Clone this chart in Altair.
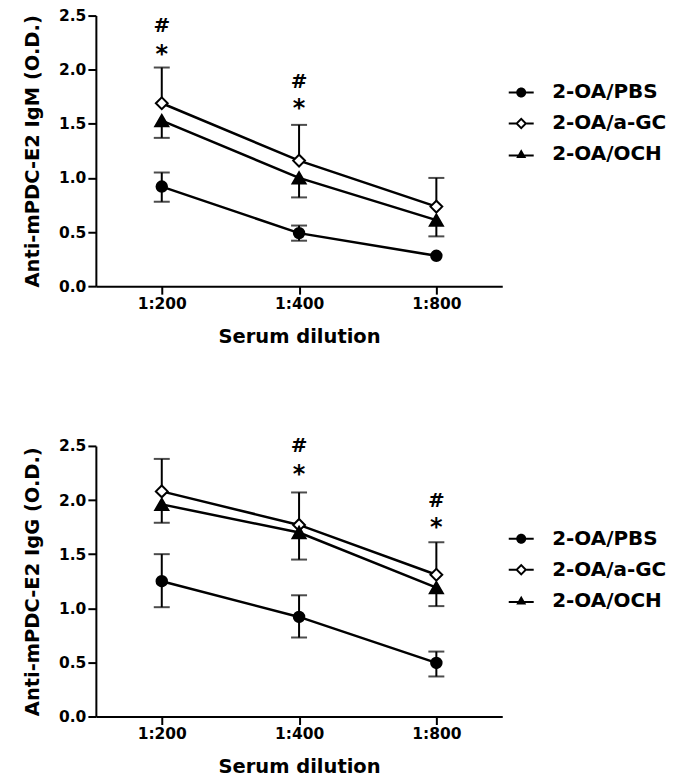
import altair as alt
import pandas as pd

dilutions = ["1:200", "1:400", "1:800"]
groups = ["2-OA/PBS", "2-OA/a-GC", "2-OA/OCH"]

# IgM panel (top)
igm_mean = {"2-OA/PBS": [0.92, 0.49, 0.28], "2-OA/a-GC": [1.69, 1.16, 0.735], "2-OA/OCH": [1.53, 1.00, 0.61]}
igm_upper = {"2-OA/PBS": [1.05, 0.56, 0.28], "2-OA/a-GC": [2.02, 1.49, 1.00], "2-OA/OCH": [1.53, 1.00, 0.61]}
igm_lower = {"2-OA/PBS": [0.78, 0.42, 0.28], "2-OA/a-GC": [1.69, 1.16, 0.735], "2-OA/OCH": [1.37, 0.82, 0.46]}
igm_ann_dil = ["1:200", "1:200", "1:400", "1:400"]
igm_ann_txt = ["#", "*", "#", "*"]
igm_ann_y = [2.35, 2.07, 1.83, 1.57]

# IgG panel (bottom)
igg_mean = {"2-OA/PBS": [1.25, 0.92, 0.495], "2-OA/a-GC": [2.08, 1.77, 1.31], "2-OA/OCH": [1.96, 1.70, 1.19]}
igg_upper = {"2-OA/PBS": [1.50, 1.12, 0.60], "2-OA/a-GC": [2.38, 2.07, 1.61], "2-OA/OCH": [1.96, 1.70, 1.19]}
igg_lower = {"2-OA/PBS": [1.01, 0.73, 0.37], "2-OA/a-GC": [2.08, 1.77, 1.31], "2-OA/OCH": [1.79, 1.45, 1.02]}
igg_ann_dil = ["1:400", "1:400", "1:800", "1:800"]
igg_ann_txt = ["#", "*", "#", "*"]
igg_ann_y = [2.44, 2.17, 1.94, 1.68]

FONT = "DejaVu Sans"

marker_shapes = ["circle", "diamond", "triangle-up"]
marker_fills = ["black", "white", "black"]
marker_sizes = [110, 170, 120]
# legend glyphs: line stub + marker, drawn as filled outlines
legend_paths = [
    "M-2.5,-0.2H2.5V0.2H-2.5Z M-1,0A1,1,0,1,1,1,0A1,1,0,1,1,-1,0Z",
    "M-2.5,-0.2H-1.05V0.2H-2.5Z M1.05,-0.2H2.5V0.2H1.05Z "
    "M-1.2,0L0,-1.2L1.2,0L0,1.2Z M-0.65,0L0,0.65L0.65,0L0,-0.65Z",
    "M-2.5,0.05H2.5V0.45H-2.5Z M-1,0.75L0,-1L1,0.75Z",
]


def panel(mean, upper, lower, ann_dil, ann_txt, ann_y, ytitle, leg_x, leg_y):
    rows = []
    for g in groups:
        for i, d in enumerate(dilutions):
            rows.append(dict(group=g, dil=d, mean=mean[g][i], hi=upper[g][i], lo=lower[g][i]))
    df = pd.DataFrame(rows)
    caps = []
    for r in rows:
        if r["hi"] > r["mean"]:
            caps.append(dict(group=r["group"], dil=r["dil"], cap=r["hi"]))
        if r["lo"] < r["mean"]:
            caps.append(dict(group=r["group"], dil=r["dil"], cap=r["lo"]))
    cap_df = pd.DataFrame(caps)
    ann_df = pd.DataFrame(dict(dil=ann_dil, y=ann_y, txt=ann_txt))

    x = alt.X(
        "dil:O",
        sort=dilutions,
        scale=alt.Scale(type="point", padding=0.48, domain=dilutions),
        axis=alt.Axis(title="Serum dilution", labelAngle=0, titlePadding=16),
    )

    def yenc(field):
        return alt.Y(
            field + ":Q",
            scale=alt.Scale(domain=[0, 2.5], nice=False, zero=True),
            axis=alt.Axis(title=ytitle, values=[0, 0.5, 1, 1.5, 2, 2.5], format=".1f", titlePadding=16),
        )

    base = alt.Chart(df)
    lines = base.mark_line(color="black", strokeWidth=2.5).encode(x=x, y=yenc("mean"), detail="group:N")
    rules = base.mark_rule(color="black", strokeWidth=2).encode(x=x, y=yenc("lo"), y2="hi:Q")
    capmarks = alt.Chart(cap_df).mark_tick(color="black", thickness=2, size=16, orient="horizontal").encode(
        x=x, y=yenc("cap")
    )
    markers = base.mark_point(filled=True, stroke="black", strokeWidth=2, opacity=1).encode(
        x=x,
        y=yenc("mean"),
        shape=alt.Shape("group:N", scale=alt.Scale(domain=groups, range=marker_shapes), legend=None),
        fill=alt.Fill("group:N", scale=alt.Scale(domain=groups, range=marker_fills), legend=None),
        size=alt.Size("group:N", scale=alt.Scale(domain=groups, range=marker_sizes), legend=None),
    )
    leg = alt.Legend(
        title=None,
        orient="none",
        legendX=leg_x,
        legendY=leg_y,
        labelFont=FONT,
        labelFontSize=20,
        labelFontWeight="bold",
        labelColor="black",
        labelOffset=21,
        symbolSize=100,
        symbolOpacity=1,
        symbolFillColor="black",
        symbolStrokeWidth=0,
        rowPadding=11,
    )
    legend_layer = base.mark_point(filled=True, color="black", opacity=0).encode(
        x=x,
        y=yenc("mean"),
        shape=alt.Shape("group:N", scale=alt.Scale(domain=groups, range=legend_paths), legend=leg),
    )
    ann = alt.Chart(ann_df).mark_text(
        font=FONT, fontWeight="bold", color="black", baseline="alphabetic"
    ).encode(
        x=x,
        y=yenc("y"),
        text="txt:N",
        size=alt.Size("txt:N", scale=alt.Scale(domain=["#", "*"], range=[20, 24]), legend=None),
    )

    return (
        alt.layer(lines, rules, capmarks, legend_layer, markers, ann)
        .resolve_scale(shape="independent", fill="independent", size="independent")
        .properties(width=407, height=271)
    )


top = panel(igm_mean, igm_upper, igm_lower, igm_ann_dil, igm_ann_txt, igm_ann_y,
            "Anti-mPDC-E2 IgM (O.D.)", 416, 67)
bottom = panel(igg_mean, igg_upper, igg_lower, igg_ann_dil, igg_ann_txt, igg_ann_y,
               "Anti-mPDC-E2 IgG (O.D.)", 416, 83)

chart = (
    alt.vconcat(top, bottom, spacing=90)
    .properties(padding={"left": 14, "top": 0, "right": 5, "bottom": 0})
    .configure_view(stroke=None)
    .configure_axis(
        grid=False,
        domainColor="black",
        domainWidth=2,
        tickColor="black",
        tickWidth=2,
        tickSize=8,
        labelPadding=2,
        labelColor="black",
        labelFont=FONT,
        labelFontWeight="bold",
        labelFontSize=15.5,
        titleColor="black",
        titleFont=FONT,
        titleFontWeight="bold",
        titleFontSize=19.5,
    )
)

chart.save("out.html", embed_options={"renderer": "svg", "actions": False})
